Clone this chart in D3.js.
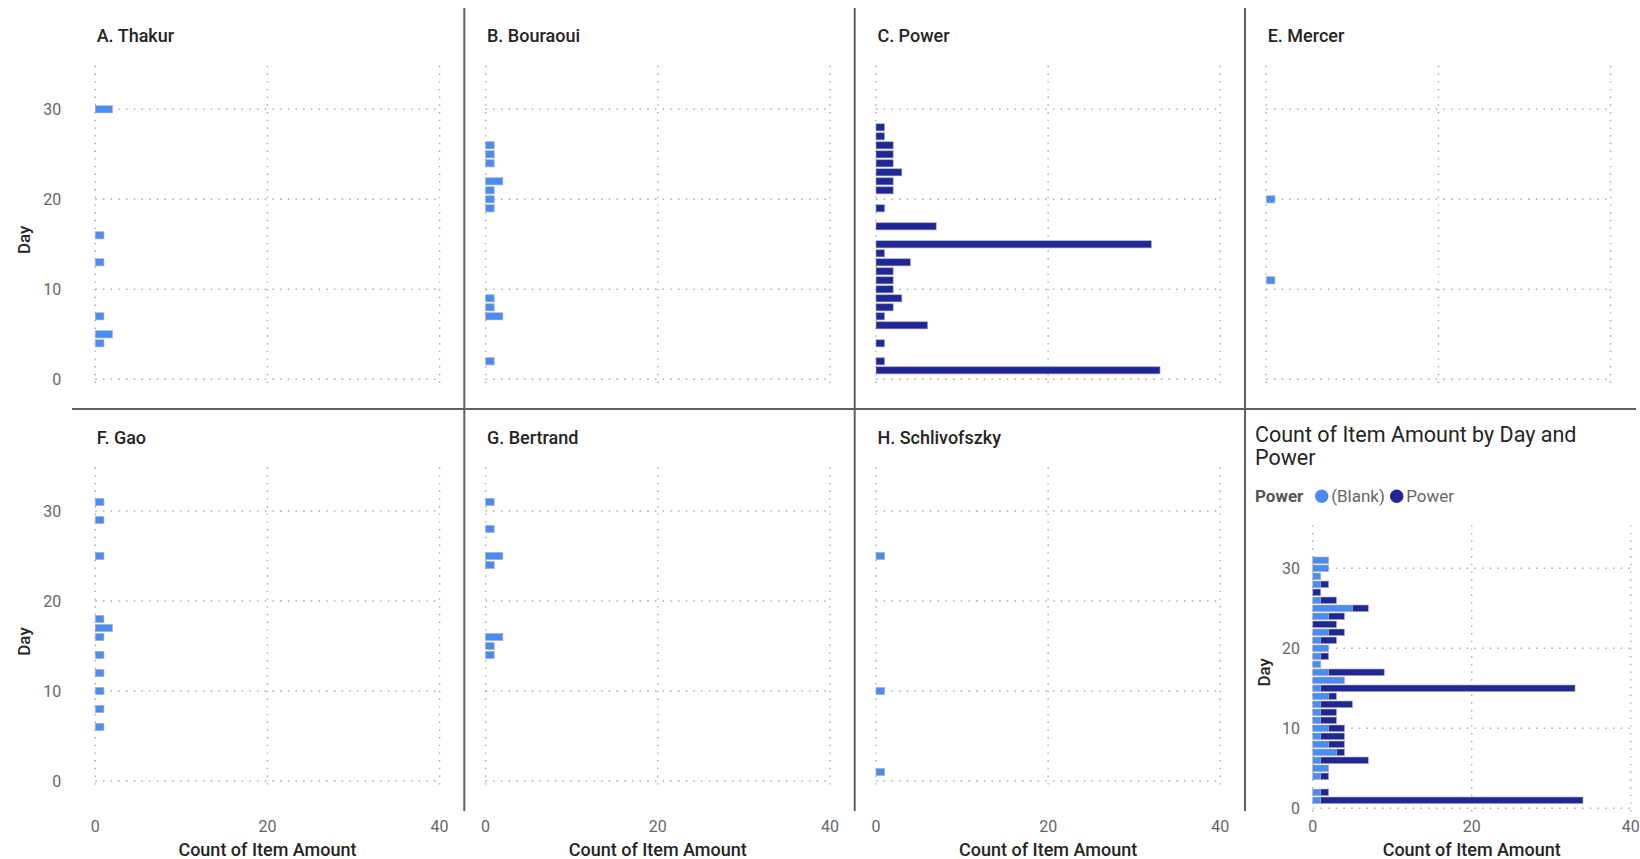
<!DOCTYPE html>
<html>
<head>
<meta charset="utf-8">
<script src="https://cdn.jsdelivr.net/npm/d3@7"></script>
<style>
  html, body { margin: 0; padding: 0; background: #ffffff; }
  svg { display: block; font-family: Roboto, "Noto Sans", sans-serif; }
</style>
</head>
<body>
<svg id="chart" width="1640" height="859"></svg>
<script>
// ---- data: count of item amount per day, one panel per person ----
const panelNames = ["A. Thakur", "B. Bouraoui", "C. Power", "E. Mercer",
                    "F. Gao", "G. Bertrand", "H. Schlivofszky"];
const panelSeries = ["(Blank)", "(Blank)", "Power", "(Blank)", "(Blank)", "(Blank)", "(Blank)"];

const thakurDays   = [30, 16, 13, 7, 5, 4];
const thakurCounts = [2, 1, 1, 1, 2, 1];

const bouraouiDays   = [26, 25, 24, 22, 21, 20, 19, 9, 8, 7, 2];
const bouraouiCounts = [1, 1, 1, 2, 1, 1, 1, 1, 1, 2, 1];

const powerDays   = [28, 27, 26, 25, 24, 23, 22, 21, 19, 17, 15, 14, 13, 12, 11, 10, 9, 8, 7, 6, 4, 2, 1];
const powerCounts = [1, 1, 2, 2, 2, 3, 2, 2, 1, 7, 32, 1, 4, 2, 2, 2, 3, 2, 1, 6, 1, 1, 33];

const mercerDays   = [20, 11];
const mercerCounts = [1, 1];

const gaoDays   = [31, 29, 25, 18, 17, 16, 14, 12, 10, 8, 6];
const gaoCounts = [1, 1, 1, 1, 2, 1, 1, 1, 1, 1, 1];

const bertrandDays   = [31, 28, 25, 24, 16, 15, 14];
const bertrandCounts = [1, 1, 2, 1, 2, 1, 1];

const schlivofszkyDays   = [25, 10, 1];
const schlivofszkyCounts = [1, 1, 1];

const panelDays   = [thakurDays, bouraouiDays, powerDays, mercerDays, gaoDays, bertrandDays, schlivofszkyDays];
const panelCounts = [thakurCounts, bouraouiCounts, powerCounts, mercerCounts, gaoCounts, bertrandCounts, schlivofszkyCounts];

const seriesKeys = ["(Blank)", "Power"];
const xTicks = [0, 20, 40];
const yTicks = [0, 10, 20, 30];

// ---- styling ----
const colors = { "(Blank)": "#4b8bf4", "Power": "#1e2795" };
const gridColor = "#a8a8a8";
const sepColor = "#606060";
const titleColor = "#252423";
const tickColor = "#666666";

const svg = d3.select("#chart");

// layout of the 4 x 2 grid
const colStart = [74, 464.3, 854.7, 1245];
const rowTop = [8, 409];
const rowShift = [0, 401.7];

function drawGrid(g, x, y, xDom, yDom) {
  // horizontal dotted grid lines
  g.selectAll(".hgrid").data(yTicks).join("line")
    .attr("x1", x(xDom[0])).attr("x2", x(xDom[1]))
    .attr("y1", d => y(d)).attr("y2", d => y(d))
    .attr("stroke", gridColor).attr("stroke-width", 1.4)
    .attr("stroke-dasharray", "1.4,6.3");
  // vertical dotted grid lines
  g.selectAll(".vgrid").data(xTicks).join("line")
    .attr("x1", d => x(d)).attr("x2", d => x(d))
    .attr("y1", y(yDom[0])).attr("y2", y(yDom[1]))
    .attr("stroke", gridColor).attr("stroke-width", 1.4)
    .attr("stroke-dasharray", "1.4,6.3");
}

// ---- small multiples ----
const smXDom = [0, 40];
const smYDom = [-0.4, 34.85];

panelNames.forEach((name, i) => {
  const col = i < 4 ? i : i - 4;
  const row = i < 4 ? 0 : 1;
  const x0 = colStart[col] + 21.3;
  const x = d3.scaleLinear().domain(smXDom).range([x0, x0 + 344.3]);
  const y = d3.scaleLinear().domain([0, 30])
    .range([379.3 + rowShift[row], 109.3 + rowShift[row]]);
  const g = svg.append("g");

  drawGrid(g, x, y, smXDom, smYDom);

  const band = (y(0) - y(1)) * 0.8;
  const rows = panelDays[i].map((d, k) => ({ day: d, count: panelCounts[i][k] }));
  g.selectAll("rect").data(rows).join("rect")
    .attr("x", x(0))
    .attr("y", d => y(d.day) - band / 2)
    .attr("width", d => x(d.count) - x(0))
    .attr("height", band)
    .attr("fill", colors[panelSeries[i]])
    .attr("stroke", "rgba(175,175,175,0.75)")
    .attr("stroke-width", 0.8);

  g.append("text")
    .attr("x", colStart[col] + 22.7)
    .attr("y", 42 + rowShift[row])
    .attr("fill", titleColor)
    .attr("font-size", 18).attr("font-weight", 500)
    .text(name);

  if (col === 0) {
    g.selectAll(".ytick").data(yTicks).join("text")
      .attr("x", x0 - 34).attr("y", d => y(d))
      .attr("dy", "0.36em").attr("text-anchor", "end")
      .attr("fill", tickColor).attr("font-size", 16)
      .text(d => d);
    g.append("text")
      .attr("transform", `translate(${x0 - 65},${y(15.5)}) rotate(-90)`)
      .attr("text-anchor", "middle")
      .attr("fill", titleColor).attr("font-size", 17).attr("font-weight", 500)
      .text("Day");
  }
  if (row === 1) {
    g.selectAll(".xtick").data(xTicks).join("text")
      .attr("x", d => x(d)).attr("y", 832)
      .attr("text-anchor", "middle")
      .attr("fill", tickColor).attr("font-size", 16)
      .text(d => d);
    g.append("text")
      .attr("x", x(20)).attr("y", 856)
      .attr("text-anchor", "middle")
      .attr("fill", titleColor).attr("font-size", 18).attr("font-weight", 500)
      .text("Count of Item Amount");
  }
});

// ---- overall chart: count by day, stacked by series ----
const byDay = new Map();
panelNames.forEach((n, i) => {
  panelDays[i].forEach((d, k) => {
    if (!byDay.has(d)) byDay.set(d, { day: d, "(Blank)": 0, "Power": 0 });
    byDay.get(d)[panelSeries[i]] += panelCounts[i][k];
  });
});
const totals = Array.from(byDay.values()).sort((a, b) => a.day - b.day);
const stacked = d3.stack().keys(seriesKeys)(totals);

const ox = d3.scaleLinear().domain([0, 40]).range([1312.7, 1630.7]);
const oy = d3.scaleLinear().domain([0, 30]).range([808.3, 568.3]);
const og = svg.append("g");
drawGrid(og, ox, oy, [0, 40], [-0.4, 35.4]);

const oband = (oy(0) - oy(1)) * 0.82;
og.selectAll(".layer").data(stacked).join("g")
  .attr("fill", d => colors[d.key])
  .selectAll("rect").data(d => d.filter(s => s[1] > s[0])).join("rect")
  .attr("x", d => ox(d[0]))
  .attr("y", d => oy(d.data.day) - oband / 2)
  .attr("width", d => ox(d[1]) - ox(d[0]))
  .attr("height", oband)
  .attr("stroke", "rgba(175,175,175,0.75)")
  .attr("stroke-width", 0.8);

og.selectAll(".ytick").data(yTicks).join("text")
  .attr("x", 1300).attr("y", d => oy(d))
  .attr("dy", "0.36em").attr("text-anchor", "end")
  .attr("fill", tickColor).attr("font-size", 16)
  .text(d => d);
og.append("text")
  .attr("transform", `translate(1270,${oy(17)}) rotate(-90)`)
  .attr("text-anchor", "middle")
  .attr("fill", titleColor).attr("font-size", 17).attr("font-weight", 500)
  .text("Day");
og.selectAll(".xtick").data(xTicks).join("text")
  .attr("x", d => ox(d)).attr("y", 832)
  .attr("text-anchor", "middle")
  .attr("fill", tickColor).attr("font-size", 16)
  .text(d => d);
og.append("text")
  .attr("x", ox(20)).attr("y", 856)
  .attr("text-anchor", "middle")
  .attr("fill", titleColor).attr("font-size", 18).attr("font-weight", 500)
  .text("Count of Item Amount");

// title and legend
const titleLines = ["Count of Item Amount by Day and", "Power"];
og.selectAll(".title").data(titleLines).join("text")
  .attr("x", 1255).attr("y", (d, i) => 441.7 + i * 23.5)
  .attr("fill", titleColor).attr("font-size", 21.5)
  .text(d => d);

og.append("text")
  .attr("x", 1255).attr("y", 501.7)
  .attr("fill", "#555555").attr("font-size", 17).attr("font-weight", 700)
  .text("Power");
const legendX = [1321.7, 1396.7];
seriesKeys.forEach((k, i) => {
  og.append("circle")
    .attr("cx", legendX[i]).attr("cy", 496.3).attr("r", 6.7)
    .attr("fill", colors[k]);
  og.append("text")
    .attr("x", legendX[i] + 9.5).attr("y", 501.7)
    .attr("fill", tickColor).attr("font-size", 17)
    .text(k);
});

// ---- panel separators ----
const sep = svg.append("g").attr("stroke", sepColor).attr("stroke-width", 2);
sep.append("line").attr("x1", 72).attr("x2", 1636).attr("y1", 409).attr("y2", 409);
[464.3, 854.7, 1245].forEach(xv => {
  sep.append("line").attr("x1", xv).attr("x2", xv).attr("y1", rowTop[0]).attr("y2", 811);
});
</script>
</body>
</html>
